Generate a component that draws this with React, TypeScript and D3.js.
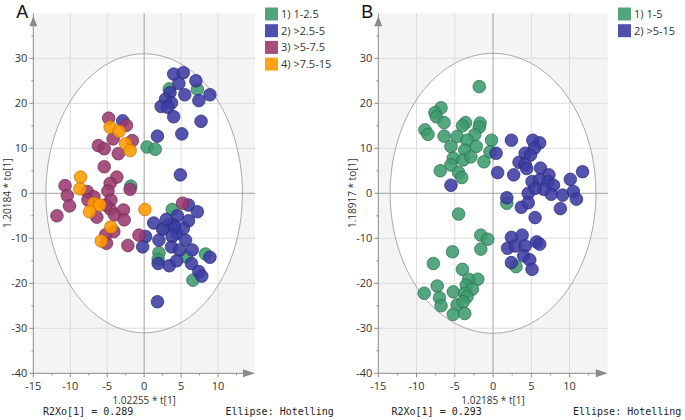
import React from "react";
import * as d3 from "d3";

// ---------- DATA ----------
// Panel A groups
const aGroup1: [number, number][] = [
  [3.4, 23.2], [7.2, 23.1], [0.4, 10.3], [1.5, 9.8], [-1.8, 1.6], [3.8, -3.6], [2.6, -7.8],
  [3.2, -7.0], [2.0, -13.2], [1.9, -14.7], [5.7, -14.1], [8.3, -13.5], [6.6, -19.3],
];
const aGroup2: [number, number][] = [
  [4.0, 26.5], [5.3, 26.8], [4.7, 24.4], [7.0, 25.0], [3.5, 22.4], [5.5, 21.9], [8.9, 21.9],
  [7.4, 20.6], [2.9, 20.9], [3.7, 20.1], [2.3, 19.3], [3.2, 19.1], [4.0, 17.0], [7.7, 16.0],
  [5.1, 13.2], [1.8, 12.7], [4.9, 4.1], [-2.9, 16.1],
  [6.0, -2.6], [7.2, -4.1], [1.3, -6.6], [4.5, -5.0], [6.0, -6.1], [3.9, -7.0], [2.5, -8.0],
  [4.4, -8.9], [5.3, -7.8], [4.1, -7.4], [0.2, -9.6], [-0.2, -11.9], [2.0, -10.4], [3.8, -9.6],
  [3.7, -11.9], [4.8, -12.6], [5.6, -10.4], [6.5, -12.6], [1.9, -15.6], [3.4, -16.1], [4.4, -15.0],
  [6.4, -15.6], [7.4, -17.4], [7.8, -18.4], [8.9, -14.2], [1.8, -24.1], [3.0, -5.8],
];
const aGroup3: [number, number][] = [
  [-4.8, 16.7], [-2.4, 15.1], [-4.2, 12.1], [-1.6, 11.7], [-6.2, 10.6], [-5.4, 9.9], [-3.5, 8.8],
  [-5.4, 5.9], [-3.7, 3.6], [-1.9, 0.9], [-4.6, 2.2], [-4.9, 0.5], [-10.7, 1.7], [-10.4, -0.5],
  [-7.7, 0.4], [-6.8, -0.8], [-10.1, -2.8], [-7.6, -1.5], [-4.5, -1.5], [-11.8, -5.0], [-6.4, -5.3],
  [-4.6, -3.5], [-4.0, -4.8], [-2.8, -3.7], [-2.7, -5.9], [-4.1, -8.5], [-5.2, -9.2], [-5.1, -11.1],
  [-2.2, -11.6], [-0.7, -9.3], [5.2, -2.2], [-5.2, -2.6],
];
const aGroup4: [number, number][] = [
  [-4.6, 14.7], [-3.4, 13.8], [-2.5, 11.0], [-1.9, 9.5], [-8.6, 3.6], [-8.7, 1.0], [-6.8, -2.2],
  [-6.0, -2.6], [-7.4, -4.1], [0.1, -3.6], [-4.5, -7.5], [-5.8, -10.6],
];
// Panel B groups
const bGroup1: [number, number][] = [
  [-1.8, 23.7], [-6.8, 19.0], [-7.6, 17.9], [-7.4, 17.0], [-6.4, 15.7], [-3.6, 15.7], [-4.0, 15.0],
  [-1.7, 15.6], [-1.8, 14.7], [-8.9, 14.1], [-8.5, 13.1], [-6.4, 12.7], [-4.7, 12.6], [-2.4, 13.0],
  [-3.4, 11.8], [-0.2, 11.8], [-5.5, 10.4], [-3.7, 9.6], [-2.2, 10.4], [-0.4, 9.2], [-5.2, 7.8],
  [-3.9, 7.4], [-2.9, 8.1], [-5.5, 6.3], [-1.2, 7.0], [-6.9, 5.0], [-4.5, 4.6], [-4.1, 3.5],
  [1.8, -2.2], [3.0, -16.3],
  [-4.5, -4.6], [-1.6, -9.3], [-0.7, -10.2], [-1.6, -12.4], [-5.3, -13.0], [-7.8, -15.6],
  [-4.0, -16.9], [-2.0, -19.1], [-3.2, -19.1], [-7.3, -20.6], [-9.0, -22.2], [-5.2, -21.9],
  [-3.5, -20.4], [-2.7, -21.3], [-3.7, -22.2], [-7.0, -23.2], [-3.4, -23.0], [-6.8, -25.0],
  [-4.7, -24.8], [-3.9, -24.1], [-5.2, -26.9], [-3.7, -26.7],
];
const bGroup2: [number, number][] = [
  [-5.5, 1.8], [0.4, 8.9], [0.6, 4.6], [2.4, 11.8], [2.7, 4.1], [3.4, 6.9], [4.2, 8.9],
  [5.2, 11.8], [6.1, 11.2], [5.4, 10.0], [4.9, 8.5], [4.2, 6.4], [4.4, 5.5], [6.2, 5.6],
  [7.3, 4.1], [10.1, 3.1], [11.7, 4.8], [5.1, 2.6], [6.1, 3.0], [7.2, 2.6], [7.9, 1.8],
  [9.1, -0.4], [10.5, 0.4], [10.9, -1.3], [7.6, -0.2], [6.6, 0.9], [4.6, 0.0], [5.5, 1.1],
  [1.8, -1.0], [3.7, -3.1], [4.6, -2.1], [8.8, -3.4], [5.5, -5.4],
  [2.4, -9.8], [3.8, -9.3], [5.7, -10.8], [6.1, -11.3], [1.9, -12.2], [2.9, -11.7],
  [4.2, -11.7], [4.0, -13.9], [4.8, -14.8], [2.4, -15.4], [5.1, -16.9],
];

const aLabels = ["1) 1-2.5", "2) >2.5-5", "3) >5-7.5", "4) >7.5-15"];
const bLabels = ["1) 1-5", "2) >5-15"];
const colors = ["#3d9b6e", "#3c3ca4", "#9b3a6f", "#ff9a00"];
const strokes = ["#2a6e4e", "#2a2a78", "#6e2850", "#c07000"];

const xTicks = [-15, -10, -5, 0, 5, 10];
const yTicks = [-40, -30, -20, -10, 0, 10, 20, 30];

type PanelProps = {
  letter: string;
  x0: number;
  x1: number;
  groups: [number, number][][];
  labels: string[];
  legendX: number;
  xTitle: string;
  yTitle: string;
  r2: string;
  r2X: number;
  ellX: number;
  ellRx: number;
  ellRy: number;
};

function Panel(p: PanelProps) {
  const x = d3.scaleLinear().domain([-15, 15]).range([p.x0, p.x1]);
  const y = d3.scaleLinear().domain([-40, 40]).range([373.3, 13.3]);
  const font = "'Open Sans', 'Noto Sans', sans-serif";
  const mono = "'DejaVu Sans Mono', monospace";
  const minorX = d3.range(-12.5, 15, 5);
  const minorY = d3.range(-35, 40, 10);
  const ell = d3.line<[number, number]>()
    .x((d) => x(d[0]))
    .y((d) => y(d[1]));
  const ellPts: [number, number][] = d3.range(0, 361, 2).map((a) => {
    const t = (a * Math.PI) / 180;
    return [p.ellRx * Math.cos(t), p.ellRy * Math.sin(t)];
  });
  return (
    <g>
      <rect x={x(-15)} y={y(40)} width={x(15) - x(-15)} height={y(-40) - y(40)} fill="#f4f4f4" />
      <path d={ell(ellPts) + "Z"} fill="#ffffff" stroke="none" />
      {[-10, -5, 5, 10].map((t) => (
        <line key={"gx" + t} x1={x(t)} x2={x(t)} y1={y(40)} y2={y(-40)} stroke="#dcdcdc" />
      ))}
      {[-30, -20, -10, 10, 20, 30].map((t) => (
        <line key={"gy" + t} x1={x(-15)} x2={x(15)} y1={y(t)} y2={y(t)} stroke="#dcdcdc" />
      ))}
      <line x1={x(0)} x2={x(0)} y1={y(40)} y2={y(-40)} stroke="#a0a0a0" />
      <line x1={x(-15)} x2={x(15)} y1={y(0)} y2={y(0)} stroke="#a0a0a0" />
      <path d={ell(ellPts) + "Z"} fill="none" stroke="#a8a8a8" strokeWidth={1} />
      {/* axes */}
      <line x1={x(-15)} x2={x(-15)} y1={y(-40)} y2={y(40)} stroke="#8a8a8a" />
      <line x1={x(-15)} x2={x(15) - 10} y1={y(-40)} y2={y(-40)} stroke="#8a8a8a" />
      <path d={`M${x(-15)},${y(40) + 3} L${x(-15) - 4},${y(40) + 13} L${x(-15) + 4},${y(40) + 13} Z`} fill="#8a8a8a" />
      <path d={`M${x(15)},${y(-40)} L${x(15) - 12},${y(-40) - 4} L${x(15) - 12},${y(-40) + 4} Z`} fill="#8a8a8a" />
      {yTicks.map((t) => (
        <g key={"yt" + t}>
          <line x1={x(-15) - 4} x2={x(-15)} y1={y(t)} y2={y(t)} stroke="#8a8a8a" />
          <text x={x(-15) - 6} y={y(t) + 4} textAnchor="end" fontSize={11} fontFamily={font} fill="#333">{t}</text>
        </g>
      ))}
      {minorY.map((t) => (
        <line key={"ym" + t} x1={x(-15) - 2} x2={x(-15)} y1={y(t)} y2={y(t)} stroke="#8a8a8a" />
      ))}
      {xTicks.map((t) => (
        <g key={"xt" + t}>
          <line x1={x(t)} x2={x(t)} y1={y(-40)} y2={y(-40) + 4} stroke="#8a8a8a" />
          <text x={x(t)} y={y(-40) + 17} textAnchor="middle" fontSize={11} fontFamily={font} fill="#333">{t}</text>
        </g>
      ))}
      {minorX.map((t) => (
        <line key={"xm" + t} x1={x(t)} x2={x(t)} y1={y(-40)} y2={y(-40) + 2} stroke="#8a8a8a" />
      ))}
      {/* points */}
      {p.groups.map((g, gi) =>
        g.map((d, i) => (
          <circle key={gi + "-" + i} cx={x(d[0])} cy={y(d[1])} r={6.3}
            fill={colors[gi]} fillOpacity={0.88} stroke={strokes[gi]} strokeOpacity={0.8} strokeWidth={0.9} />
        ))
      )}
      {/* titles */}
      <text x={x(0)} y={404} textAnchor="middle" fontSize={10} fontFamily={font} fill="#333">{p.xTitle}</text>
      <text transform={`translate(${p.x0 - 22},${y(0)}) rotate(-90)`} textAnchor="middle" fontSize={10} fontFamily={font} fill="#333">{p.yTitle}</text>
      <text x={p.r2X} y={415} fontSize={10} fontFamily={mono} fill="#222">{p.r2}</text>
      <text x={p.ellX} y={415} fontSize={10} fontFamily={mono} fill="#222">Ellipse: Hotelling</text>
      <text x={p.x0 - 17} y={17.5} fontSize={18} fontFamily="'Liberation Sans', Arial, sans-serif" fill="#111">{p.letter}</text>
      {/* legend */}
      {p.labels.map((l, i) => (
        <g key={"lg" + i}>
          <rect x={p.legendX} y={7.5 + i * 16.7} width={13} height={13} fill={colors[i]} fillOpacity={0.9} />
          <text x={p.legendX + 16} y={18 + i * 16.7} fontSize={11} fontFamily={font} fill="#333">{l}</text>
        </g>
      ))}
    </g>
  );
}

export default function App() {
  return (
    <svg width={685} height={420} style={{ position: "absolute", left: 0, top: 0, background: "#fff" }}>
      <Panel letter="A" x0={33.3} x1={255} groups={[aGroup1, aGroup2, aGroup3, aGroup4]} labels={aLabels}
        legendX={265} xTitle="1.02255 * t[1]" yTitle="1.20184 * to[1]" r2="R2Xo[1] = 0.289" r2X={43}
        ellX={225.5} ellRx={13.3} ellRy={31} />
      <Panel letter="B" x0={378.3} x1={607.8} groups={[bGroup1, bGroup2]} labels={bLabels}
        legendX={618} xTitle="1.02185 * t[1]" yTitle="1.18917 * to[1]" r2="R2Xo[1] = 0.293" r2X={391.5}
        ellX={573} ellRx={13.45} ellRy={31.1} />
    </svg>
  );
}
